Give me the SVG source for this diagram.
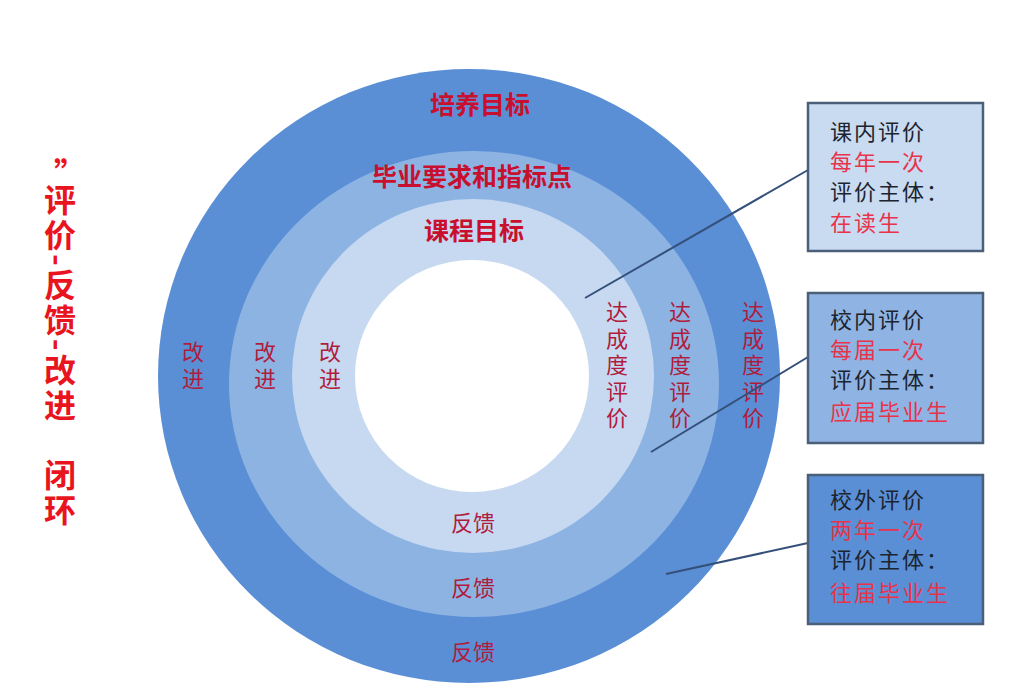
<svg xmlns="http://www.w3.org/2000/svg" width="1014" height="700" viewBox="0 0 1014 700">
<style>
.ring{font-family:"Noto Sans CJK SC","Noto Sans",sans-serif;font-size:22px;fill:#b01c3c;text-anchor:middle;}
.vr{font-family:"Noto Sans CJK SC","Noto Sans",sans-serif;font-size:22px;fill:#b01c3c;writing-mode:vertical-rl;letter-spacing:4.5px;}
.title{font-family:"Noto Sans CJK SC","Noto Sans",sans-serif;font-size:25px;font-weight:bold;fill:#c8102e;text-anchor:middle;}
.side{font-family:"Noto Sans CJK SC","Noto Sans",sans-serif;font-size:32px;font-weight:bold;fill:#e8141e;}
.box{stroke:#4a5f7a;stroke-width:2.5;}
.bt{font-family:"Noto Sans CJK SC","Noto Sans",sans-serif;font-size:22px;letter-spacing:2px;}
.dk{fill:#1c2430;}
.rd{fill:#e8334a;}
.conn{stroke:#34507a;stroke-width:2;fill:none;}
</style>
<rect width="1014" height="700" fill="#ffffff"/>
<g id="rings">
<ellipse cx="469" cy="376" rx="311" ry="307" fill="#5a8fd6"/>
<ellipse cx="474" cy="384" rx="245" ry="233" fill="#8db3e3"/>
<ellipse cx="473" cy="376" rx="181" ry="177" fill="#c6d9f1"/>
<ellipse cx="472" cy="376" rx="117" ry="116" fill="#ffffff"/>
</g>
<g id="ring-labels">
<text class="title" x="480" y="114">培养目标</text>
<text class="title" x="472" y="186">毕业要求和指标点</text>
<text class="title" x="474" y="240">课程目标</text>
<text class="vr" x="193" y="341">改进</text>
<text class="vr" x="265" y="341">改进</text>
<text class="vr" x="330" y="341">改进</text>
<text class="ring" x="473" y="531">反馈</text>
<text class="ring" x="473" y="596">反馈</text>
<text class="ring" x="473" y="660">反馈</text>
<text class="vr" x="617" y="301">达成度评价</text>
<text class="vr" x="680" y="301">达成度评价</text>
<text class="vr" x="753" y="301">达成度评价</text>
</g>
<g id="side-title">
<text class="side" x="54" y="186">”</text>
<text class="side" x="60" y="184" style="writing-mode:vertical-rl;letter-spacing:3px;">评价-反馈-改进　闭环</text>
</g>
<g id="connectors">
<line class="conn" x1="585" y1="298" x2="808" y2="170"/>
<line class="conn" x1="651" y1="452" x2="808" y2="357"/>
<line class="conn" x1="666" y1="574" x2="808" y2="543"/>
</g>
<g id="box-course">
<rect class="box" x="808" y="103" width="175" height="148" fill="#c9dbf1"/>
<text class="bt dk" x="830" y="140">课内评价</text>
<text class="bt rd" x="830" y="170">每年一次</text>
<text class="bt dk" x="830" y="200">评价主体：</text>
<text class="bt rd" x="830" y="231">在读生</text>
</g>
<g id="box-school">
<rect class="box" x="808" y="293" width="175" height="150" fill="#8fb4e3"/>
<text class="bt dk" x="830" y="328">校内评价</text>
<text class="bt rd" x="830" y="358">每届一次</text>
<text class="bt dk" x="830" y="388">评价主体：</text>
<text class="bt rd" x="830" y="420">应届毕业生</text>
</g>
<g id="box-external">
<rect class="box" x="808" y="475" width="175" height="149" fill="#5a8fd6"/>
<text class="bt dk" x="830" y="508">校外评价</text>
<text class="bt rd" x="830" y="538">两年一次</text>
<text class="bt dk" x="830" y="568">评价主体：</text>
<text class="bt rd" x="830" y="601">往届毕业生</text>
</g>
</svg>
